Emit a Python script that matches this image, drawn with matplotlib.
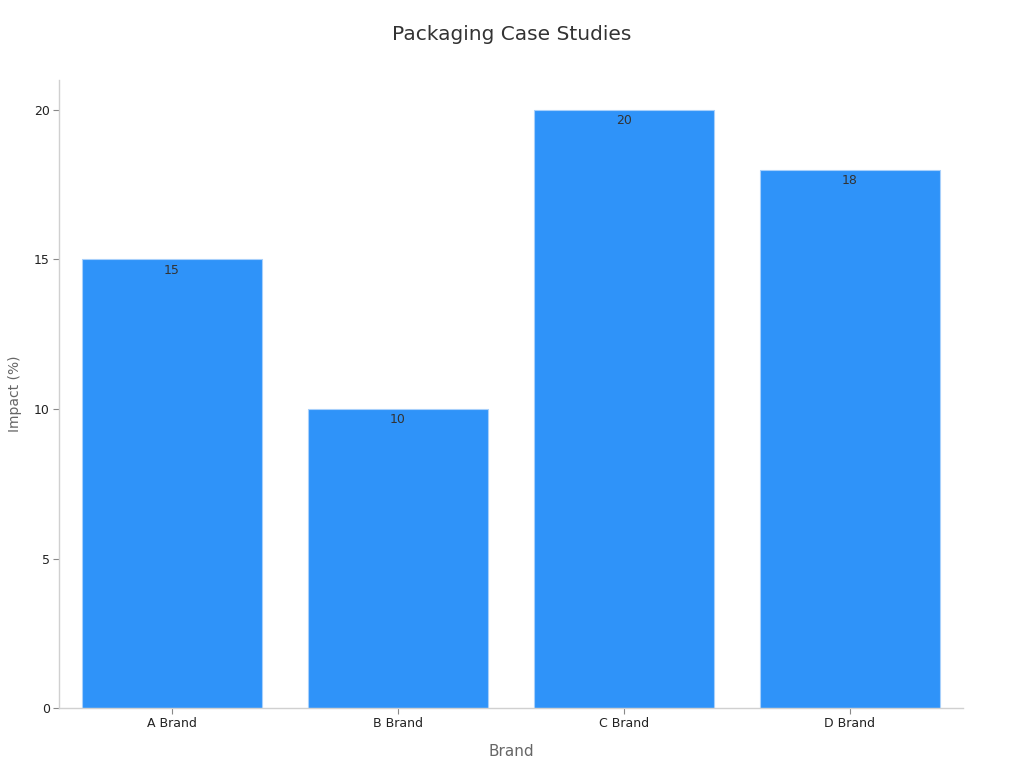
import matplotlib.pyplot as plt

# data
brands = ['A Brand', 'B Brand', 'C Brand', 'D Brand']
impact = [15, 10, 20, 18]

fig = plt.figure(figsize=(10.24, 7.68), dpi=100)
ax = fig.add_axes([0.0576, 0.078, 0.8828, 0.818])

bars = ax.bar(range(len(brands)), impact, width=0.8, color='#2f93f9',
              edgecolor='#a8d0fb', linewidth=0.8)

for bar in bars:
    h = bar.get_height()
    ax.annotate('{}'.format(h),
                xy=(bar.get_x() + bar.get_width() / 2, h),
                xytext=(0, -3), textcoords='offset points',
                ha='center', va='top', fontsize=9, color='#333333')

ax.set_xlim(-0.5, 3.5)
ax.set_ylim(0, 21)
ax.set_xticks(range(len(brands)))
ax.set_xticklabels(brands)
ax.set_yticks([0, 5, 10, 15, 20])
ax.tick_params(axis='both', labelsize=9, labelcolor='#222222', length=4,
               width=0.8, color='#888888', pad=2.5)

for side in ['top', 'right']:
    ax.spines[side].set_visible(False)
for side in ['left', 'bottom']:
    ax.spines[side].set_color('#d0d0d0')
    ax.spines[side].set_linewidth(1)

ax.set_xlabel('Brand', fontsize=11, color='#666666', labelpad=10)
ax.set_ylabel('Impact (%)', fontsize=10, color='#666666', labelpad=9)
fig.suptitle('Packaging Case Studies', fontsize=14.5, color='#333333', y=0.968)

fig.savefig('out.png', dpi=100)
